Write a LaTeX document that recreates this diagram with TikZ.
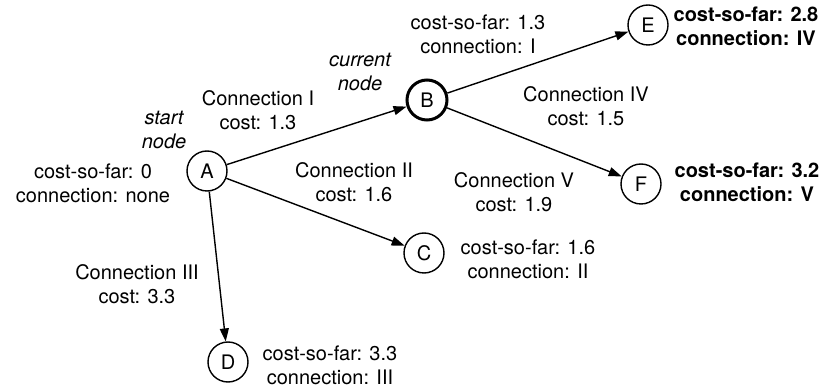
\documentclass[tikz,border=0pt]{standalone}
\usepackage{fontspec}
\setmainfont{TeX Gyre Heros}
\usetikzlibrary{arrows.meta}
\tikzset{
  gnode/.style={circle,draw,line width=1.4pt,minimum size=40pt,inner sep=0pt,font=\fontsize{20}{24}\selectfont},
  cur/.style={gnode,line width=3pt},
  lbl/.style={align=center,inner sep=0pt,font=\fontsize{20}{24}\selectfont},
  blbl/.style={lbl,font=\fontsize{20}{24}\selectfont\bfseries},
  ilbl/.style={lbl,font=\fontsize{20}{24}\selectfont\itshape},
  conn/.style={line width=1.4pt,-{Triangle[length=13pt,width=9pt]}}
}
\begin{document}
\begin{tikzpicture}[x=1pt,y=-1pt]
\useasboundingbox (0,0) rectangle (831,387);
\node[gnode] (A) at (207,171) {A};
\node[cur] (B) at (427,100) {B};
\node[gnode] (C) at (424,253) {C};
\node[gnode] (D) at (228,362) {D};
\node[gnode] (E) at (648,25) {E};
\node[gnode] (F) at (641,184) {F};
\draw[conn] (A) -- (B);
\draw[conn] (A) -- (C);
\draw[conn] (A) -- (D);
\draw[conn] (B) -- (E);
\draw[conn] (B) -- (F);
\node[ilbl] (startlbl) at (164,130) {start\\node};
\node[lbl] (alabel) at (93,183) {cost-so-far: 0\\connection: none};
\node[lbl] (c1) at (258,110) {Connection I\\cost: 1.3};
\node[ilbl] (curlbl) at (360,72) {current\\node};
\node[lbl] (blabel) at (478,34) {cost-so-far: 1.3\\connection: I};
\node[lbl] (c4) at (586,106) {Connection IV\\cost: 1.5};
\node[blbl] (elabel) at (746,26) {cost-so-far: 2.8\\connection: IV};
\node[lbl] (c2) at (354,182) {Connection II\\cost: 1.6};
\node[lbl] (c5) at (514,192) {Connection V\\cost: 1.9};
\node[blbl] (flabel) at (747,182) {cost-so-far: 3.2\\connection: V};
\node[lbl] (clabel) at (528,259) {cost-so-far: 1.6\\connection: II};
\node[lbl] (c3) at (137,284) {Connection III\\cost: 3.3};
\node[lbl] (dlabel) at (330,365) {cost-so-far: 3.3\\connection: III};
\end{tikzpicture}
\end{document}
